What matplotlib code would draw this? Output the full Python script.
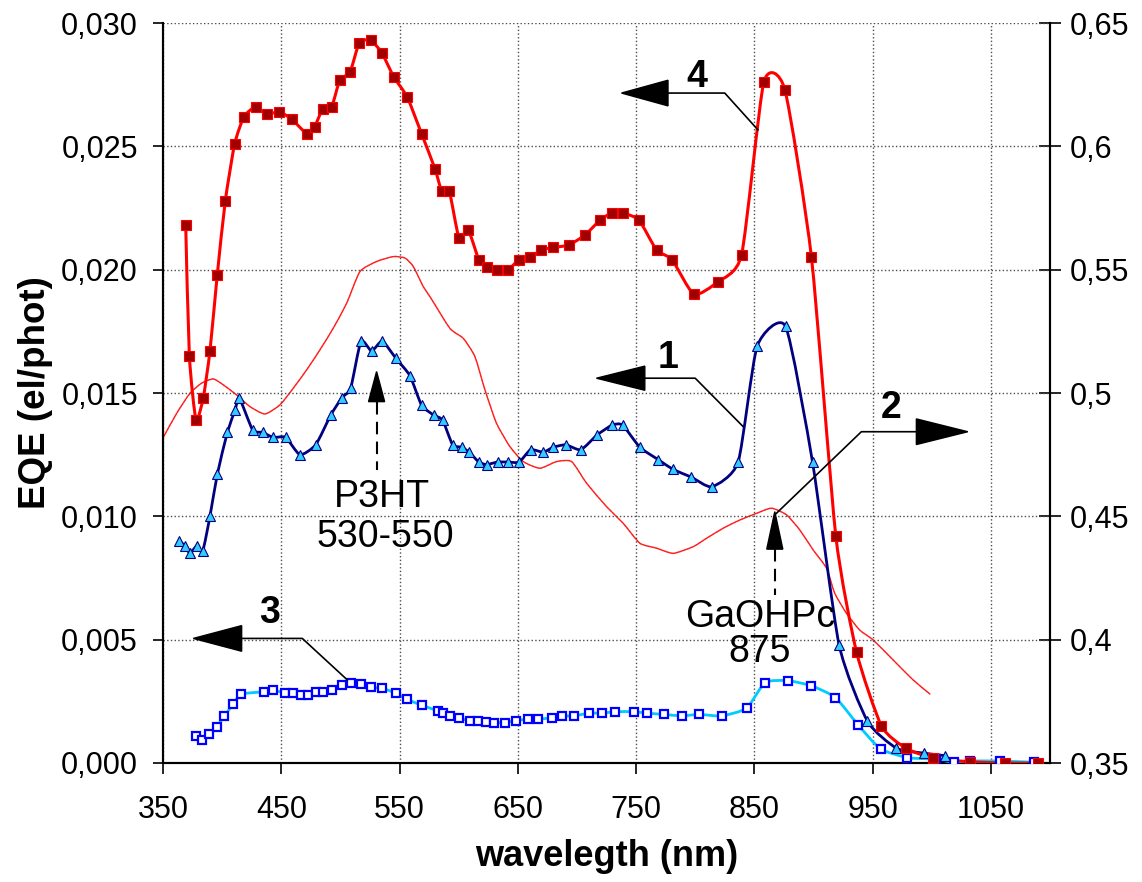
import numpy as np
import matplotlib
matplotlib.use('Agg')
import matplotlib.pyplot as plt
from matplotlib.path import Path
from matplotlib.patches import PathPatch, Polygon
import matplotlib.ticker as ticker

plt.rcParams['font.family'] = ['Liberation Sans', 'DejaVu Sans']

# curve 4 (left axis, filled squares)
x4 = [369.2, 372.3, 377.9, 384.0, 389.7, 395.9, 402.7, 410.6, 418.5, 428.3,
      437.6, 448.3, 458.8, 472.0, 478.2, 485.0, 492.6, 499.6, 508.1, 516.0,
      525.6, 534.9, 545.3, 556.5, 568.7, 579.9, 585.6, 592.0, 600.2, 608.1,
      617.1, 623.6, 632.6, 641.9, 650.9, 660.2, 670.0, 679.9, 693.2, 706.7,
      719.4, 729.3, 739.1, 752.6, 767.3, 780.5, 798.9, 818.9, 839.2, 858.0,
      875.8, 898.3, 918.9, 936.4, 957.5, 978.1, 1001.0, 1032.0, 1062.0, 1090.0]
y4 = [0.0218, 0.0165, 0.0139, 0.0148, 0.0167, 0.0198, 0.0228, 0.0251, 0.0262, 0.0266,
      0.0263, 0.0264, 0.0261, 0.0255, 0.0258, 0.0265, 0.0266, 0.0277, 0.0280, 0.0292,
      0.0293, 0.0288, 0.0278, 0.0270, 0.0255, 0.0241, 0.0232, 0.0232, 0.0213, 0.0216,
      0.0204, 0.0201, 0.0200, 0.0200, 0.0204, 0.0205, 0.0208, 0.0209, 0.0210, 0.0214,
      0.0220, 0.0223, 0.0223, 0.0220, 0.0208, 0.0204, 0.0190, 0.0195, 0.0206, 0.0276,
      0.0273, 0.0205, 0.0092, 0.0045, 0.0015, 0.0006, 0.0002, 0.00005, 0.0, 0.0]

# curve 1 (left axis, triangles)
x1 = [363.8, 368.6, 372.8, 378.5, 383.6, 389.7, 395.9, 404.4, 410.9, 414.5,
      425.8, 434.3, 443.2, 453.7, 465.8, 479.1, 491.8, 501.1, 508.7, 517.4,
      526.4, 535.4, 547.0, 558.8, 568.7, 579.1, 586.4, 594.9, 602.5, 608.9,
      617.1, 623.6, 632.9, 642.0, 651.2, 660.8, 671.5, 679.9, 690.7, 703.3,
      717.1, 729.8, 738.6, 753.2, 768.7, 781.4, 796.3, 814.3, 836.3, 852.4,
      876.4, 899.2, 921.6, 945.6, 970.2, 993.3, 1011.0]
y1 = [0.0090, 0.0088, 0.0085, 0.0088, 0.0086, 0.0100, 0.0117, 0.0134, 0.0143, 0.0148,
      0.0135, 0.0134, 0.0132, 0.0132, 0.0125, 0.0129, 0.0141, 0.0148, 0.0152, 0.0171,
      0.0167, 0.0171, 0.0164, 0.0157, 0.0145, 0.0141, 0.0139, 0.0129, 0.0128, 0.0126,
      0.0122, 0.0121, 0.0122, 0.0122, 0.0122, 0.0127, 0.0126, 0.0128, 0.0129, 0.0127,
      0.0133, 0.0137, 0.0137, 0.0128, 0.0123, 0.0119, 0.0116, 0.0112, 0.0122, 0.0169,
      0.0177, 0.0122, 0.0048, 0.0017, 0.0006, 0.0004, 0.0003]

# curve 3 (left axis, hollow squares)
x3 = [377.9, 382.7, 388.9, 395.4, 401.8, 409.5, 416.0, 435.4, 443.2, 453.1,
      460.1, 466.4, 472.3, 479.1, 485.5, 493.1, 501.1, 508.9, 517.4, 525.6,
      535.4, 546.7, 556.5, 568.7, 582.2, 587.0, 592.6, 600.2, 609.5, 616.5,
      623.0, 630.0, 639.1, 648.4, 658.3, 667.3, 678.6, 687.5, 697.7, 710.1,
      721.4, 732.1, 748.4, 759.4, 773.8, 788.5, 803.4, 822.3, 843.4, 859.1,
      878.1, 898.3, 918.6, 937.8, 956.7, 979.5, 1003.4, 1018.6, 1032.2, 1057.5,
      1086.3]
y3 = [0.00109, 0.00093, 0.00118, 0.00147, 0.00191, 0.00239, 0.00279, 0.00289, 0.00296, 0.00283,
      0.00283, 0.00276, 0.00276, 0.00289, 0.00289, 0.00296, 0.00316, 0.00323, 0.00319, 0.00307,
      0.00303, 0.00283, 0.00258, 0.00234, 0.00212, 0.00202, 0.00191, 0.00184, 0.00170, 0.00170,
      0.00165, 0.00164, 0.00164, 0.00172, 0.00177, 0.00177, 0.00184, 0.00191, 0.00191, 0.00202,
      0.00202, 0.00208, 0.00208, 0.00202, 0.00197, 0.00191, 0.00197, 0.00191, 0.00222, 0.00326,
      0.00334, 0.00313, 0.00265, 0.00154, 0.00057, 0.00022, 0.00015, 0.00003, 0.00008, 0.00008,
      0.00003]

# curve 2 (right axis, thin line)
x2 = [350.0, 361.6, 372.8, 382.7, 392.5, 401.0, 412.3, 423.5, 436.2, 448.9,
      460.1, 471.5, 482.7, 494.0, 505.3, 516.5, 530.6, 544.7, 554.6, 561.6,
      570.1, 575.7, 592.6, 603.8, 613.7, 622.2, 632.0, 643.3, 654.6, 668.7,
      682.8, 695.5, 708.2, 725.1, 739.1, 753.2, 767.3, 781.4, 798.3, 809.6,
      823.7, 837.7, 851.8, 864.5, 877.2, 888.4, 899.7, 911.0, 918.0, 927.9,
      939.1, 950.4, 967.3, 984.2, 998.4]
r2 = [0.4818, 0.4918, 0.4999, 0.5040, 0.5057, 0.5033, 0.4992, 0.4945, 0.4915, 0.4952,
      0.5019, 0.5094, 0.5175, 0.5263, 0.5364, 0.5492, 0.5533, 0.5553, 0.5547, 0.5513,
      0.5431, 0.5391, 0.5262, 0.5222, 0.5148, 0.5013, 0.4877, 0.4783, 0.4722, 0.4695,
      0.4722, 0.4722, 0.4634, 0.4539, 0.4472, 0.4391, 0.4371, 0.4350, 0.4377, 0.4411,
      0.4452, 0.4485, 0.4512, 0.4533, 0.4506, 0.4445, 0.4364, 0.4290, 0.4188, 0.4107,
      0.4039, 0.3999, 0.3918, 0.3837, 0.3780]

xticks = [350, 450, 550, 650, 750, 850, 950, 1050]
yticks_left = [0.000, 0.005, 0.010, 0.015, 0.020, 0.025, 0.030]
yticks_right = [0.35, 0.40, 0.45, 0.50, 0.55, 0.60, 0.65]


def smooth_path(x, y, tension=0.6):
    """Catmull-Rom style curve through the points, as a bezier path."""
    pts = np.column_stack([x, y])
    n = len(pts)
    k = tension / 6.0
    verts = [pts[0]]
    codes = [Path.MOVETO]
    for i in range(n - 1):
        p0 = pts[i - 1] if i > 0 else pts[i]
        p1 = pts[i]
        p2 = pts[i + 1]
        p3 = pts[i + 2] if i + 2 < n else pts[i + 1]
        verts += [p1 + (p2 - p0) * k, p2 - (p3 - p1) * k, p2]
        codes += [Path.CURVE4] * 3
    return Path(verts, codes)


def add_curve(ax, x, y, color, lw, zorder, **kw):
    ax.add_patch(PathPatch(smooth_path(x, y), fill=False, edgecolor=color,
                           lw=lw, zorder=zorder, capstyle='round', **kw))


def callout(ax, pts, tip, base, hw, horizontal=True, ls='-', lw=1.2):
    """Leader line plus a filled triangular arrow head."""
    xs, ys = zip(*pts)
    ax.plot(xs, ys, color='black', lw=lw, ls=ls, zorder=6)
    if horizontal:
        tri = [tip, (base, tip[1] + hw), (base, tip[1] - hw)]
    else:
        tri = [tip, (tip[0] - hw, base), (tip[0] + hw, base)]
    ax.add_patch(Polygon(tri, closed=True, color='black', zorder=7))


fig = plt.figure(figsize=(11.42, 8.82), dpi=100)
ax = fig.add_axes([163 / 1142, 1 - 763 / 882, 887 / 1142, 740 / 882])
ax2 = ax.twinx()
ax.set_zorder(ax2.get_zorder() + 1)
ax.patch.set_visible(False)

ax.set_xlim(350, 1100)
ax.set_ylim(0, 0.030)
ax2.set_ylim(0.35, 0.65)
ax.set_xticks(xticks)
ax.set_yticks(yticks_left)
ax2.set_yticks(yticks_right)
ax.yaxis.set_major_formatter(ticker.FuncFormatter(
    lambda v, p: f'{v:.3f}'.replace('.', ',')))
ax2.yaxis.set_major_formatter(ticker.FuncFormatter(
    lambda v, p: f'{round(v, 2):g}'.replace('.', ',')))
ax.grid(True, ls=':', color='0.3', lw=1.0)
ax.set_axisbelow(True)
for a in (ax, ax2):
    a.spines['top'].set_visible(False)
    for s in ('left', 'right', 'bottom'):
        a.spines[s].set_linewidth(1.5)
ax.tick_params(axis='y', direction='out', length=7, width=1.2, pad=11,
               labelsize=22)
ax.tick_params(axis='x', direction='out', length=8, width=1.2, pad=15,
               labelsize=22)
ax2.tick_params(axis='y', direction='inout', length=16, width=1.2, pad=6,
                labelsize=22)

# curve 2 on the right axis
add_curve(ax2, x2, r2, '#ff2020', 1.1, 2, linestyle=(0, (2, 0.7)))

# curves on the left axis
add_curve(ax, x3, y3, '#00ccff', 2.0, 3)
ax.plot(x3, y3, ls='none', marker='s', ms=6, mfc='white', mec='#0000ff',
        mew=1.6, zorder=4)
add_curve(ax, x1, y1, '#000080', 2.0, 3)
ax.plot(x1, y1, ls='none', marker='^', ms=7, mfc='#33ccff', mec='#000080',
        mew=0.8, zorder=4)
add_curve(ax, x4, y4, '#ff0000', 2.2, 3)
ax.plot(x4, y4, ls='none', marker='s', ms=6.5, mfc='#a00000', mec='#ff0000',
        mew=0.8, zorder=5)

# call-outs
callout(ax, [(777, 0.02716), (825, 0.02716), (853, 0.02567)],
        (737.7, 0.02716), 777, 0.00052)
ax.text(801, 0.02783, '4', fontsize=27, fontweight='bold', ha='center',
        va='center', zorder=8)
callout(ax, [(757, 0.01560), (800, 0.01560), (840.5, 0.01364)],
        (716.5, 0.01560), 757.4, 0.00049)
ax.text(777, 0.01641, '1', fontsize=27, fontweight='bold', ha='center',
        va='center', zorder=8)
callout(ax, [(867.3, 0.01006), (940.5, 0.01343), (987, 0.01343)],
        (1030.5, 0.01343), 987, 0.00052)
ax.text(965.8, 0.01438, '2', fontsize=27, fontweight='bold', ha='center',
        va='center', zorder=8)
callout(ax, [(416.5, 0.00505), (467.8, 0.00505), (505.8, 0.00337)],
        (375.6, 0.00505), 416.5, 0.00052)
ax.text(440.4, 0.00607, '3', fontsize=27, fontweight='bold', ha='center',
        va='center', zorder=8)

# peak markers
callout(ax, [(530.6, 0.01465), (530.6, 0.01188)], (530.6, 0.01587), 0.01465,
        6.8, horizontal=False, ls=(0, (6, 3.5)), lw=1.5)
ax.text(535.4, 0.0108, 'P3HT', fontsize=27, ha='center', va='center', zorder=8)
ax.text(537.7, 0.00918, '530-550', fontsize=27, ha='center', va='center',
        zorder=8)
callout(ax, [(867.3, 0.00867), (867.3, 0.00681)], (867.3, 0.01019), 0.00867,
        6.8, horizontal=False, ls=(0, (6, 3.5)), lw=1.5)
ax.text(855.2, 0.00593, 'GaOHPc', fontsize=27, ha='center', va='center',
        zorder=8)
ax.text(854.7, 0.00451, '875', fontsize=27, ha='center', va='center', zorder=8)

ax.set_xlabel('wavelegth (nm)', fontsize=26, fontweight='bold', labelpad=10)
ax.set_ylabel('EQE (el/phot)', fontsize=26.5, fontweight='bold', labelpad=6)

fig.savefig('out.png', dpi=100)
